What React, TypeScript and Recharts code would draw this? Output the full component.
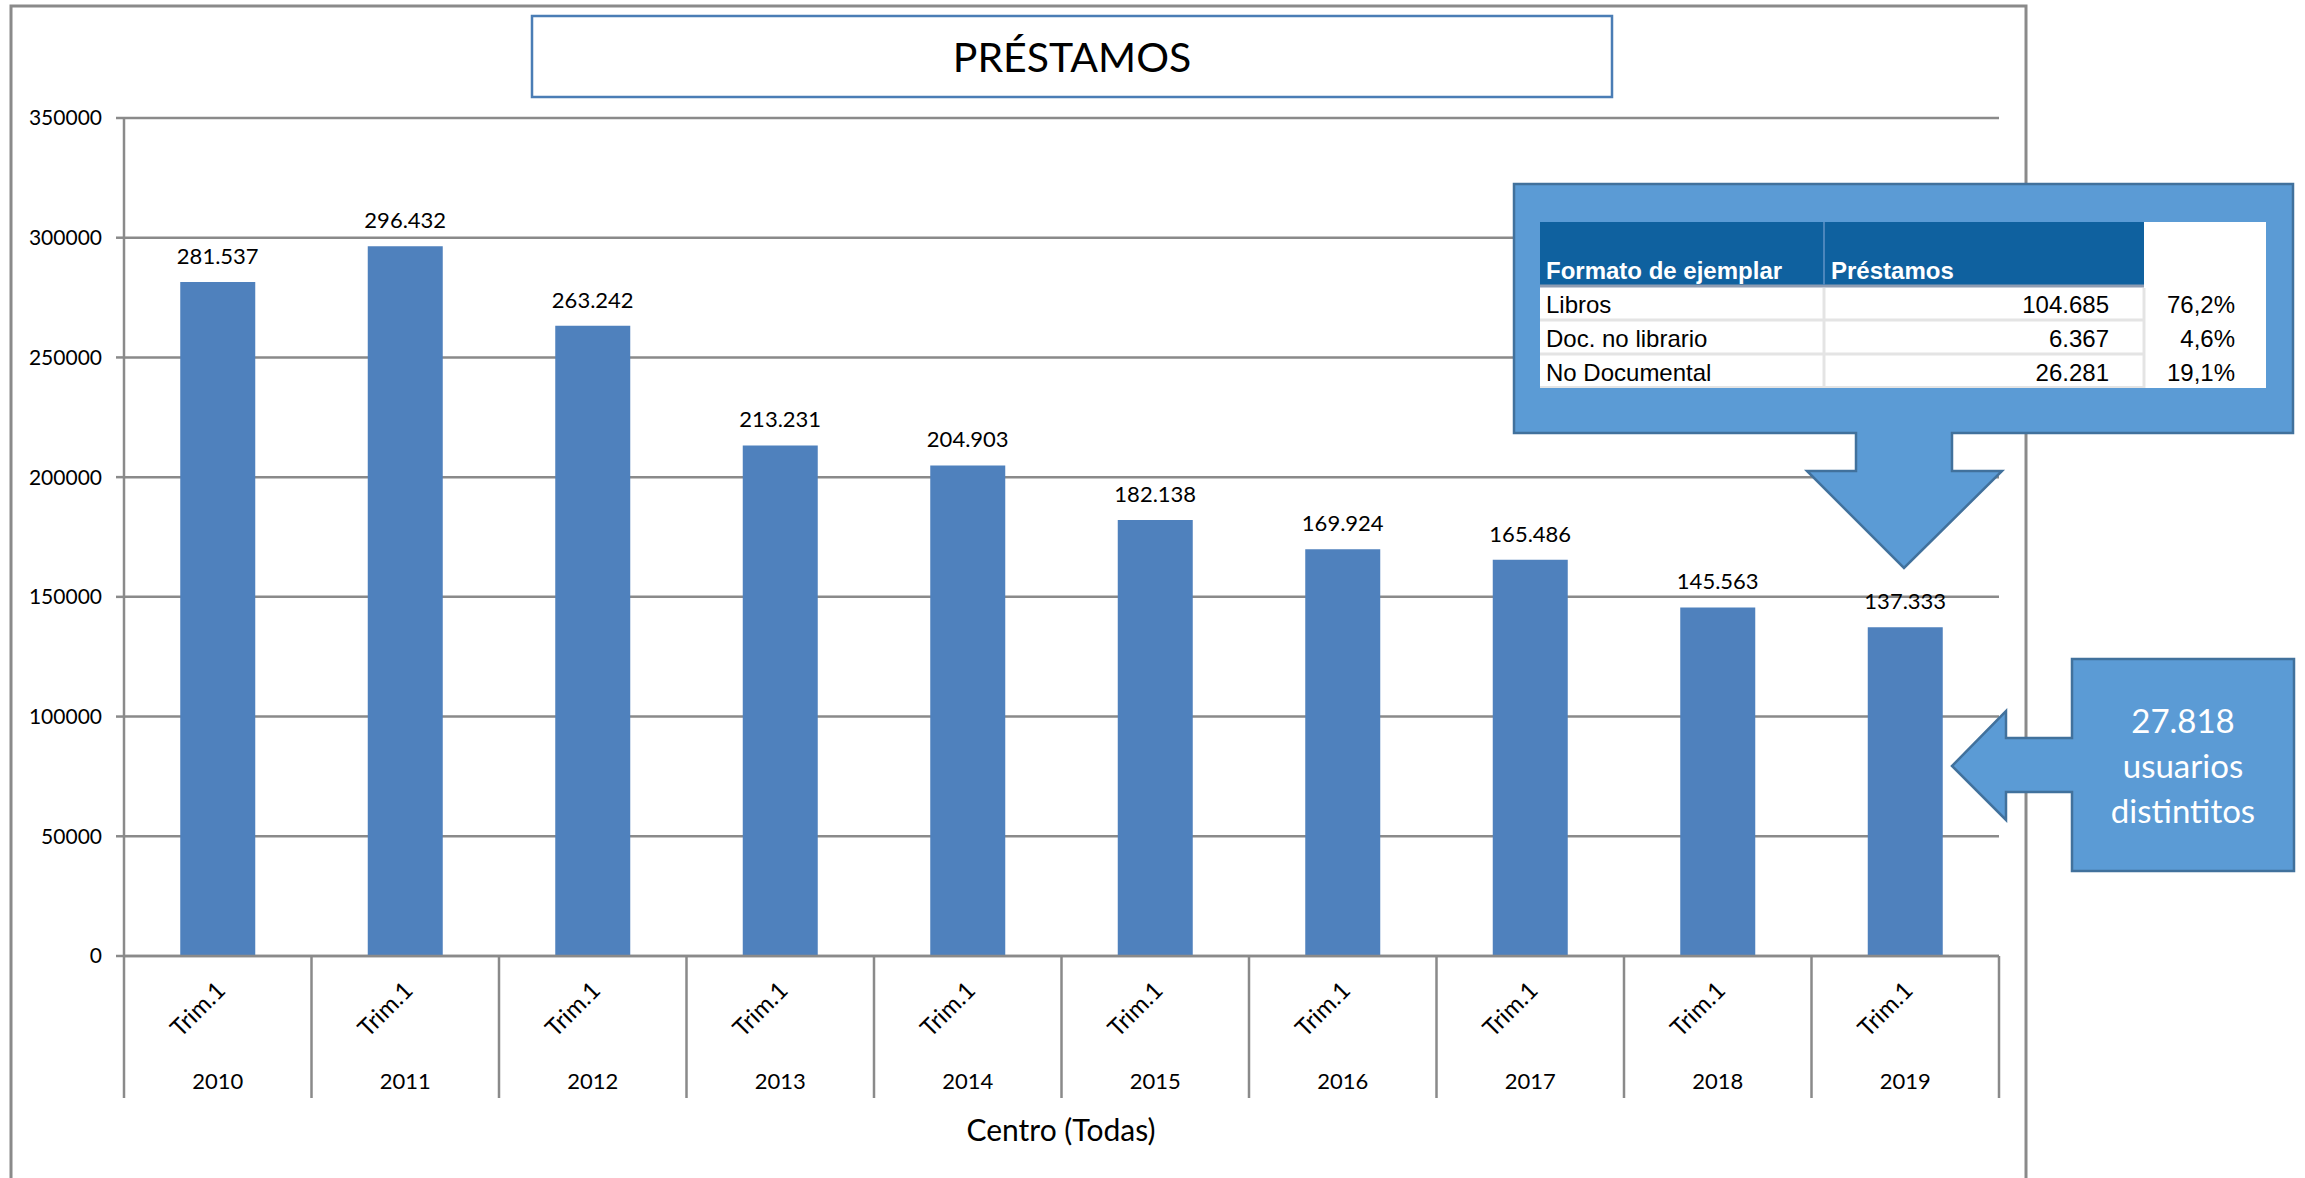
import React from 'react';
import { BarChart, Bar, XAxis, YAxis, CartesianGrid, LabelList } from 'recharts';

// ---- data ----
const years = ['2010', '2011', '2012', '2013', '2014', '2015', '2016', '2017', '2018', '2019'];
const quarterLabel = 'Trim.1';
const prestamos = [281537, 296432, 263242, 213231, 204903, 182138, 169924, 165486, 145563, 137333];
const yTicks = [0, 50000, 100000, 150000, 200000, 250000, 300000, 350000];

const formatos = ['Libros', 'Doc. no librario', 'No Documental'];
const formatoPrestamos = [104685, 6367, 26281];
const formatoPct = ['76,2%', '4,6%', '19,1%'];
const usuariosDistintos = 27818;

const title = 'PRÉSTAMOS';
const axisTitle = 'Centro (Todas)';

const data = years.map((y, i) => ({ year: y, trim: quarterLabel, value: prestamos[i] }));

// ---- layout ----
const W = 2305;
const H = 1178;
const M_TOP = 118;
const M_RIGHT = 306;
const Y_W = 124;
const X_H = 222;
const PLOT_W = W - M_RIGHT - Y_W;
const HALF_BAND = PLOT_W / years.length / 2;

const FONT = 'Lato, "Open Sans", sans-serif';
const GRID = '#8A8A8A';
const BAR = '#4F81BD';
const CALLOUT = '#5B9BD5';
const CALLOUT_STROKE = '#41719C';
const TABLE_FONT = "'Liberation Sans', Arial, sans-serif";

const fmt = (v: number) => String(v).replace(/\B(?=(\d{3})+(?!\d))/g, '.');

const XTick = (props: any) => {
  const { x, y, payload } = props;
  const idx = payload && payload.index != null ? payload.index : props.index;
  const last = idx === years.length - 1;
  const row = data[idx] || { trim: quarterLabel };
  const ax = x + 9;
  const ay = y + 36;
  return (
    <g>
      <line x1={x - HALF_BAND} y1={y} x2={x - HALF_BAND} y2={y + 142} stroke={GRID} strokeWidth={2.5} />
      {last && <line x1={x + HALF_BAND} y1={y} x2={x + HALF_BAND} y2={y + 142} stroke={GRID} strokeWidth={2.5} />}
      <text
        x={ax}
        y={ay}
        transform={`rotate(-45 ${ax} ${ay})`}
        textAnchor="end"
        fontSize={24}
        fontFamily={FONT}
        fill="#000"
      >
        {row.trim}
      </text>
      <text x={x} y={y + 133} textAnchor="middle" fontSize={22} fontFamily={FONT} fill="#000">
        {payload.value}
      </text>
    </g>
  );
};

const Overlay = () => {
  const rowBase = [313, 347, 381];
  return (
    <svg width={W} height={H} style={{ position: 'absolute', left: 0, top: 0, pointerEvents: 'none' }}>
      {/* outer frame */}
      <rect x={11} y={6} width={2015} height={1220} fill="none" stroke={GRID} strokeWidth={3} />
      {/* title */}
      <rect x={532} y={16} width={1080} height={81} fill="#fff" stroke="#4A7DB5" strokeWidth={2.5} />
      <text x={1072} y={72} textAnchor="middle" fontSize={41} fontFamily={FONT} fill="#000">
        {title}
      </text>
      {/* axis title */}
      <text x={1061} y={1141} textAnchor="middle" fontSize={30} fontFamily={FONT} fill="#000">
        {axisTitle}
      </text>

      {/* table callout */}
      <path
        d="M1514,184 H2293 V433 H1952 V471 H2002 L1904,568 L1807,471 H1856 V433 H1514 Z"
        fill={CALLOUT}
        stroke={CALLOUT_STROKE}
        strokeWidth={2.5}
      />
      <rect x={1540} y={222} width={726} height={166} fill="#fff" />
      <rect x={1540} y={222} width={604} height={65} fill="#0F619F" />
      <line x1={1540} y1={286} x2={2144} y2={286} stroke="#8E9CB2" strokeWidth={3} />
      <line x1={1824} y1={222} x2={1824} y2={285} stroke="#4C86BC" strokeWidth={2} />
      <line x1={1540} y1={320} x2={2144} y2={320} stroke="#E4E4E4" strokeWidth={3} />
      <line x1={1540} y1={354} x2={2144} y2={354} stroke="#E4E4E4" strokeWidth={3} />
      <line x1={1540} y1={387} x2={2144} y2={387} stroke="#E4E4E4" strokeWidth={2} />
      <line x1={1824} y1={288} x2={1824} y2={388} stroke="#E4E4E4" strokeWidth={3} />
      <line x1={2144} y1={288} x2={2144} y2={388} stroke="#E4E4E4" strokeWidth={3} />
      <text x={1546} y={279} fontSize={24} fontWeight="bold" fontFamily={TABLE_FONT} fill="#fff">
        Formato de ejemplar
      </text>
      <text x={1831} y={279} fontSize={24} fontWeight="bold" fontFamily={TABLE_FONT} fill="#fff">
        Préstamos
      </text>
      {formatos.map((f, i) => (
        <g key={f}>
          <text x={1546} y={rowBase[i]} fontSize={24} fontFamily={TABLE_FONT} fill="#000">
            {f}
          </text>
          <text x={2109} y={rowBase[i]} textAnchor="end" fontSize={24} fontFamily={TABLE_FONT} fill="#000">
            {fmt(formatoPrestamos[i])}
          </text>
          <text x={2235} y={rowBase[i]} textAnchor="end" fontSize={24} fontFamily={TABLE_FONT} fill="#000">
            {formatoPct[i]}
          </text>
        </g>
      ))}

      {/* users callout */}
      <path
        d="M2072,659 H2294 V871 H2072 V792 H2006 V820 L1952,766 L2006,711 V738 H2072 Z"
        fill={CALLOUT}
        stroke={CALLOUT_STROKE}
        strokeWidth={2.5}
      />
      <text x={2183} y={733} textAnchor="middle" fontSize={33} fontFamily={FONT} fill="#fff">
        {fmt(usuariosDistintos)}
      </text>
      <text x={2183} y={778} textAnchor="middle" fontSize={33} fontFamily={FONT} fill="#fff">
        usuarios
      </text>
      <text x={2183} y={823} textAnchor="middle" fontSize={33} fontFamily={FONT} fill="#fff">
        distintitos
      </text>
    </svg>
  );
};

export default function App() {
  return (
    <div style={{ position: 'relative', width: W, height: H, background: '#fff', overflow: 'hidden' }}>
      <style>{`body{margin:0;}`}</style>
      <BarChart
        width={W}
        height={H}
        data={data}
        margin={{ top: M_TOP, right: M_RIGHT, bottom: 0, left: 0 }}
        barCategoryGap="30%"
      >
        <CartesianGrid vertical={false} stroke={GRID} strokeWidth={2.5} />
        <YAxis
          width={Y_W}
          domain={[0, 350000]}
          ticks={yTicks}
          interval={0}
          tickSize={8}
          tickMargin={14}
          tickLine={{ stroke: GRID, strokeWidth: 2.5 }}
          axisLine={{ stroke: GRID, strokeWidth: 2.5 }}
          tick={{ fill: '#000', fontSize: 21, fontFamily: FONT }}
        />
        <XAxis
          dataKey="year"
          height={X_H}
          interval={0}
          tickSize={0}
          tickMargin={0}
          tickLine={false}
          axisLine={{ stroke: GRID, strokeWidth: 2.5 }}
          tick={<XTick />}
        />
        <Bar dataKey="value" fill={BAR} isAnimationActive={false}>
          <LabelList
            dataKey="value"
            position="top"
            offset={18}
            formatter={(v: any) => fmt(Number(v))}
            fill="#000"
            fontSize={22}
            fontFamily={FONT}
          />
        </Bar>
      </BarChart>
      <Overlay />
    </div>
  );
}
